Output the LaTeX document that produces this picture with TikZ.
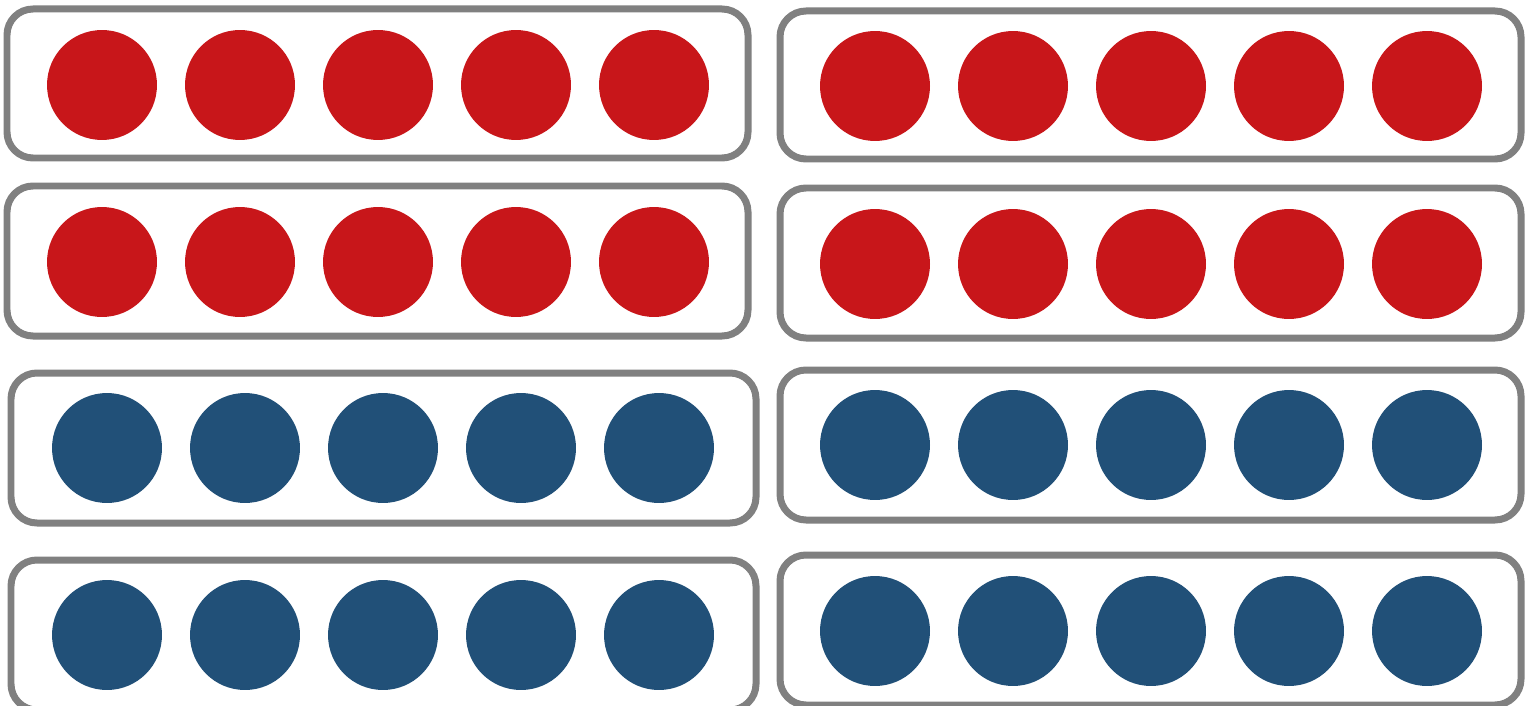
\documentclass[tikz,border=0pt]{standalone}
\usepackage{xcolor}
\usepackage{tikz}
\usetikzlibrary{positioning}

\definecolor{dotred}{HTML}{C8161A}
\definecolor{dotblue}{HTML}{215078}
\definecolor{framegray}{HTML}{808080}

\tikzset{
  frame/.style={draw=framegray, line width=0.14cm, rounded corners=0.52cm},
  dot/.style={circle, inner sep=0pt, minimum size=2.2cm}
}

\begin{document}
\begin{tikzpicture}[x=0.02cm, y=-0.02cm]
          \useasboundingbox (0,0) rectangle (1528,706);
          % frames with five dots each
          \foreach \k/\xa/\ya/\xb/\yb/\cx/\cy/\col in {
              1/7/9/748/158/102/85/dotred,
              2/780/11/1521/159/875/86/dotred,
              3/7/186/748/336/102/262/dotred,
              4/780/188/1521/338/875/264/dotred,
              5/11/373/756/523/107/448/dotblue,
              6/780/370/1521/520/875/445/dotblue,
              7/11/560/756/710/107/635/dotblue,
              8/780/555/1521/705/875/631/dotblue} {
            \draw[frame] (\xa,\ya) rectangle (\xb,\yb);
            \foreach \j in {0,...,4} {
              \node[dot, fill=\col] (dot\k-\j) at (\cx+\j*138,\cy) {};
            }
          }
        \end{tikzpicture}
\end{document}
